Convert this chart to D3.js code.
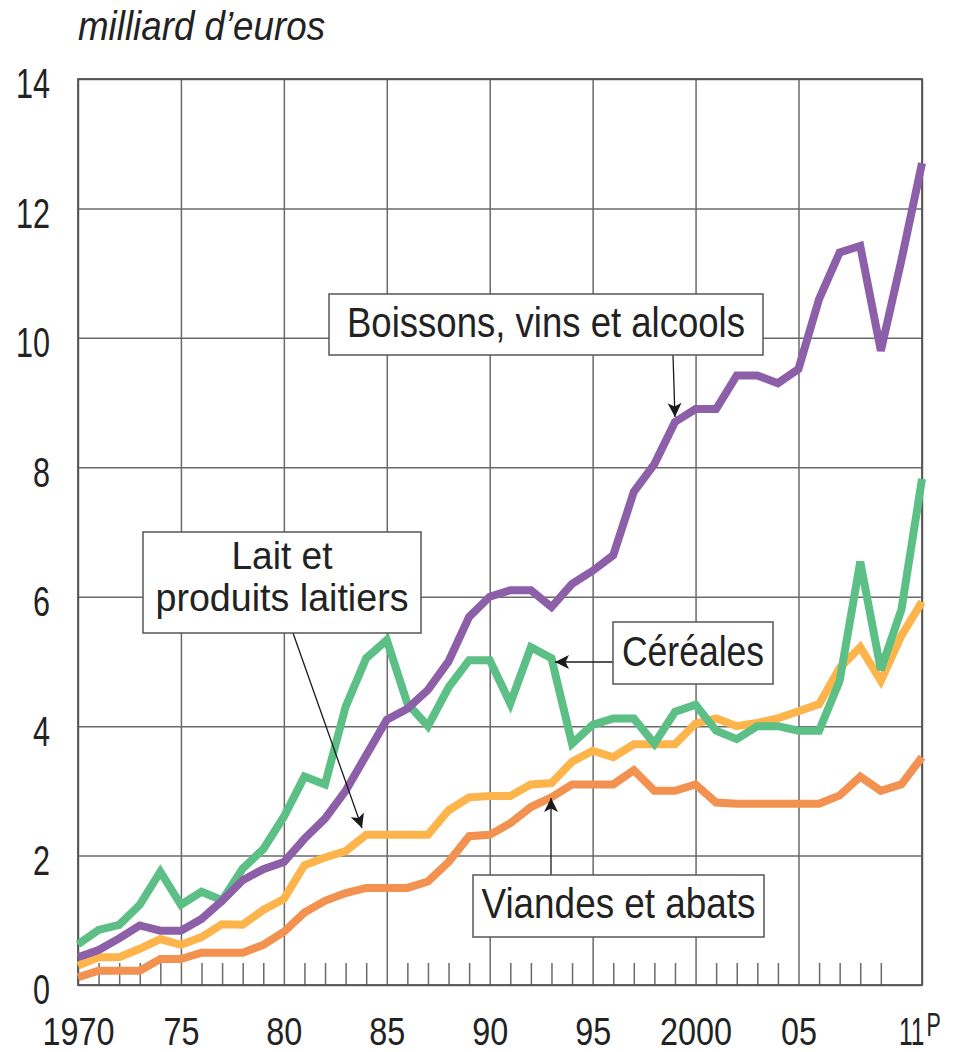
<!DOCTYPE html>
<html>
    <head>
        <style>
            body { margin: 0; background: #fff; }
        </style>
    </head>
    <body>
        <script src="https://d3js.org/d3.v7.min.js"></script>
        <script>
            // values, milliard d'euros, 1970 -> 2011
            const years = d3.range(1970, 2012)
            const boissons = [0.43,0.54,0.72,0.92,0.84,0.84,1.02,1.3,1.62,1.79,
                              1.9,2.26,2.57,3.0,3.55,4.1,4.27,4.56,5.0,5.69,
                              6.0,6.1,6.1,5.84,6.2,6.4,6.64,7.62,8.05,8.7,
                              8.9,8.9,9.42,9.42,9.3,9.52,10.6,11.32,11.42,9.8,
                              11.2,12.7]
            const cereales = [0.63,0.85,0.93,1.24,1.75,1.24,1.44,1.31,1.8,2.1,
                              2.6,3.22,3.1,4.3,5.05,5.33,4.35,4.0,4.6,5.02,
                              5.02,4.35,5.22,5.05,3.73,4.02,4.12,4.12,3.73,4.22,
                              4.33,3.93,3.8,4.0,4.0,3.93,3.93,4.7,6.54,4.87,
                              5.8,7.82]
            const lait = [0.3,0.43,0.43,0.56,0.71,0.62,0.74,0.94,0.93,1.16,
                          1.33,1.85,1.97,2.07,2.32,2.32,2.32,2.32,2.7,2.9,
                          2.92,2.92,3.1,3.12,3.45,3.62,3.52,3.72,3.72,3.72,
                          4.04,4.12,4.0,4.05,4.12,4.23,4.34,4.9,5.22,4.7,
                          5.4,5.92]
            const viandes = [0.12,0.22,0.22,0.22,0.4,0.4,0.5,0.5,0.5,0.62,
                             0.82,1.12,1.3,1.42,1.5,1.5,1.5,1.6,1.9,2.3,
                             2.32,2.5,2.75,2.9,3.1,3.1,3.1,3.32,3.0,3.0,
                             3.1,2.82,2.8,2.8,2.8,2.8,2.8,2.93,3.22,3.0,
                             3.1,3.52]

            const yTicks = [0, 2, 4, 6, 8, 10, 12, 14]
            const xTicks = [1970, 1975, 1980, 1985, 1990, 1995, 2000, 2005, 2011]
            const xTickLabels = ["1970", "75", "80", "85", "90", "95", "2000", "05", "11"]

            const w = 954
            const h = 1052
            const plotLeft = 78, plotRight = 922, plotTop = 79, plotBottom = 985
            const font = '"Liberation Sans Narrow", "Liberation Sans", Arial, sans-serif'
            const ink = "#222"
            const gridColor = "#6a6a6a"

            const x = d3.scaleLinear().domain([1970, 2011]).range([plotLeft, plotRight])
            const y = d3.scaleLinear().domain([0, 14]).range([plotBottom, plotTop])

            const svg = d3.select("body").append("svg").attr("width", w).attr("height", h)

            svg.append("defs").append("marker")
                .attr("id", "head")
                .attr("markerUnits", "userSpaceOnUse")
                .attr("viewBox", "0 0 10 10")
                .attr("refX", 10).attr("refY", 5)
                .attr("markerWidth", 17).attr("markerHeight", 14)
                .attr("orient", "auto")
                .append("path")
                .attr("d", "M0,0 L10,5 L0,10 L2.5,5 Z")
                .attr("fill", "#1a1a1a")

            // unit title
            svg.append("text")
                .attr("x", 78).attr("y", 40)
                .attr("font-family", font).attr("font-style", "italic")
                .attr("font-size", 40).attr("fill", ink)
                .attr("textLength", 247).attr("lengthAdjust", "spacingAndGlyphs")
                .text("milliard d\u2019euros")

            // horizontal grid + y labels
            const yAxis = svg.append("g")
                .attr("transform", "translate(" + plotLeft + ",0)")
                .call(d3.axisLeft(y).tickValues(yTicks).tickSize(-(plotRight - plotLeft)).tickPadding(28))
            yAxis.select(".domain").remove()
            yAxis.selectAll("line").attr("stroke", gridColor).attr("stroke-width", 1.5)
            yAxis.selectAll("text")
                .attr("font-family", font).attr("font-size", 42).attr("fill", ink)
                .attr("dy", "0.45em")
                .attr("textLength", d => String(d).length * 17)
                .attr("lengthAdjust", "spacingAndGlyphs")

            // minor year ticks along the bottom
            const minor = years.filter(d => d % 5 !== 0 && d !== 2011)
            const minorAxis = svg.append("g")
                .attr("transform", "translate(0," + plotBottom + ")")
                .call(d3.axisBottom(x).tickValues(minor).tickSize(-22).tickFormat(""))
            minorAxis.select(".domain").remove()
            minorAxis.selectAll("line").attr("stroke", gridColor).attr("stroke-width", 1.5)

            // vertical grid + x labels (the last one, 11 with a raised P, is drawn separately)
            const xAxis = svg.append("g")
                .attr("transform", "translate(0," + plotBottom + ")")
                .call(d3.axisBottom(x).tickValues(xTicks).tickSize(-(plotBottom - plotTop))
                    .tickFormat((d, i) => d === 2011 ? "" : xTickLabels[i]))
            xAxis.select(".domain").remove()
            xAxis.selectAll("line").attr("stroke", gridColor).attr("stroke-width", 1.5)
            xAxis.selectAll("text")
                .attr("y", 0).attr("dy", 60)
                .attr("font-family", font).attr("font-size", 39).attr("fill", ink)
                .attr("textLength", (d, i) => xTickLabels[i].length * 18)
                .attr("lengthAdjust", "spacingAndGlyphs")
            xAxis.selectAll(".tick").filter(d => d === 2011).select("text").remove()

            const lastLabel = svg.append("g")
                .attr("transform", "translate(" + (x(2011) - 23) + "," + (plotBottom + 60) + ") scale(0.63,1)")
                .append("text")
                .attr("font-family", font).attr("font-size", 39).attr("fill", ink)
            lastLabel.append("tspan").text(xTickLabels[xTickLabels.length - 1])
            lastLabel.append("tspan").attr("dx", 3).attr("dy", -9).attr("font-size", 34).text("P")

            // frame
            svg.append("rect")
                .attr("x", plotLeft).attr("y", plotTop)
                .attr("width", plotRight - plotLeft).attr("height", plotBottom - plotTop)
                .attr("fill", "none").attr("stroke", "#555").attr("stroke-width", 1.8)

            // series, back to front
            const series = [
                { name: "viandes", values: viandes, color: "#f29150" },
                { name: "lait", values: lait, color: "#fdb54b" },
                { name: "cereales", values: cereales, color: "#5cbf85" },
                { name: "boissons", values: boissons, color: "#8d5fa8" }
            ]
            const line = d3.line().x((d, i) => x(years[i])).y(d => y(d))
            svg.selectAll(".series").data(series).enter().append("path")
                .attr("class", "series")
                .attr("d", d => line(d.values))
                .attr("fill", "none")
                .attr("stroke", d => d.color)
                .attr("stroke-width", 8)
                .attr("stroke-linejoin", "miter")
                .attr("stroke-miterlimit", 3)

            // labelled boxes with arrows
            const notes = [
                { lines: ["Boissons, vins et alcools"], box: [329, 294, 763, 355], base: [337], widths: [398], size: 42,
                  from: [673, 355], to: [x(1999), 417] },
                { lines: ["Lait et", "produits laitiers"], box: [143, 532, 421, 633], base: [569, 611], widths: [101, 253], size: 38,
                  from: [293, 633], to: [362, 828] },
                { lines: ["C\u00e9r\u00e9ales"], box: [613, 622, 773, 684], base: [666], widths: [142], size: 42,
                  from: [613, 662], to: [555, 662] },
                { lines: ["Viandes et abats"], box: [473, 875, 764, 937], base: [918], widths: [274], size: 42,
                  from: [551, 875], to: [551, 798] }
            ]
            notes.forEach(n => {
                svg.append("line")
                    .attr("x1", n.from[0]).attr("y1", n.from[1])
                    .attr("x2", n.to[0]).attr("y2", n.to[1])
                    .attr("stroke", "#1a1a1a").attr("stroke-width", 1.3)
                    .attr("marker-end", "url(#head)")
                svg.append("rect")
                    .attr("x", n.box[0]).attr("y", n.box[1])
                    .attr("width", n.box[2] - n.box[0]).attr("height", n.box[3] - n.box[1])
                    .attr("fill", "#fff").attr("stroke", "#555").attr("stroke-width", 1.5)
                n.lines.forEach((t, i) => {
                    svg.append("text")
                        .attr("x", (n.box[0] + n.box[2]) / 2).attr("y", n.base[i])
                        .attr("text-anchor", "middle")
                        .attr("font-family", font).attr("font-size", n.size).attr("fill", ink)
                        .attr("textLength", n.widths[i]).attr("lengthAdjust", "spacingAndGlyphs")
                        .text(t)
                })
            })
        </script>
    </body>
</html>
